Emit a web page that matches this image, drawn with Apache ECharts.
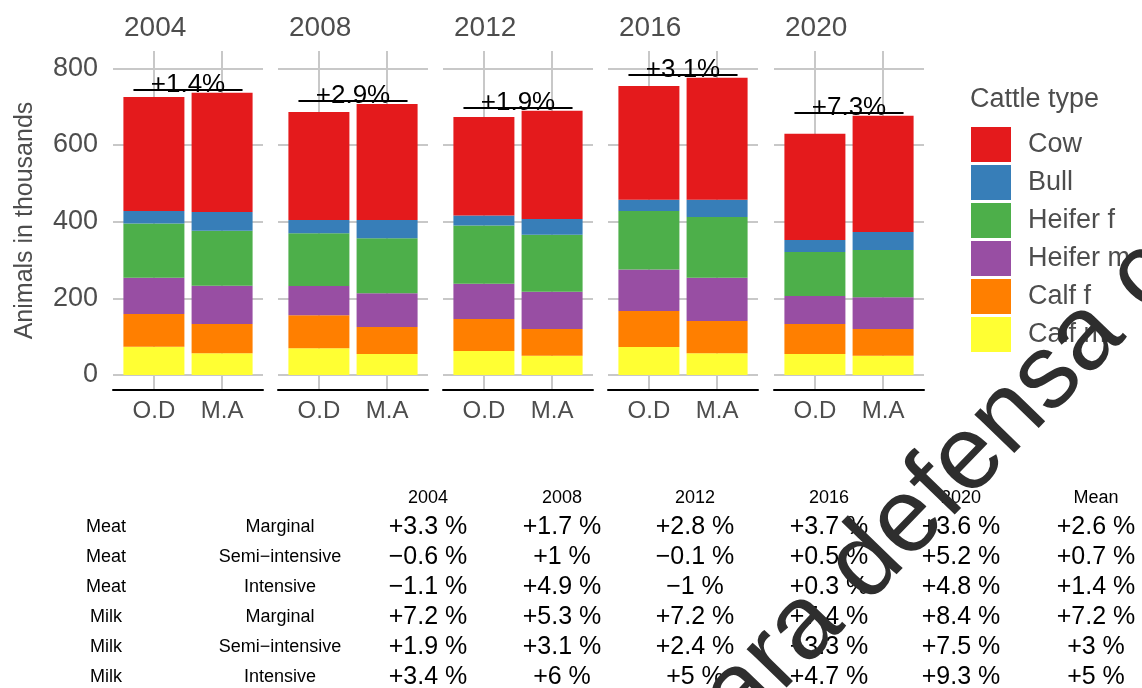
<!DOCTYPE html>
<html>
<head>
<meta charset="utf-8">
<title>Cattle type</title>
<script src="https://cdn.jsdelivr.net/npm/echarts@6/dist/echarts.min.js"></script>
<style>
  html, body { margin: 0; padding: 0; background: #fff; }
  #chart { width: 1142px; height: 688px; }
</style>
</head>
<body>
<div id="chart"></div>
<script>
// --- data ---
const years = ["2004", "2008", "2012", "2016", "2020"];
const groups = ["O.D", "M.A"];
const cattleTypes = ["Cow", "Bull", "Heifer f", "Heifer m", "Calf f", "Calf m"];
const typeColors = ["#E41A1C", "#377EB8", "#4DAF4A", "#984EA3", "#FF7F00", "#FFFF33"];

// animals in thousands per year, [O.D, M.A]
const cow = [[297, 311], [282, 303], [257, 282], [297, 318], [277, 303]];
const bull = [[33, 49], [34, 47], [26, 41], [29, 45], [31, 47]];
const heiferF = [[141, 143], [138, 144], [152, 149], [153, 158], [115, 123]];
const heiferM = [[95, 100], [76, 88], [92, 97], [108, 113], [73, 83]];
const calfF = [[85, 76], [86, 70], [83, 70], [94, 84], [78, 70]];
const calfM = [[74, 57], [70, 55], [63, 50], [73, 57], [55, 50]];

// change labels over each pair of bars
const changeLabels = ["+1.4%", "+2.9%", "+1.9%", "+3.1%", "+7.3%"];
const bracketLevels = [743, 716, 696, 784, 684];

const yTicks = [0, 200, 400, 600, 800];

// table under the chart
const tableHeader = ["2004", "2008", "2012", "2016", "2020", "Mean"];
const tableProduction = ["Meat", "Meat", "Meat", "Milk", "Milk", "Milk"];
const tableSystem = ["Marginal", "Semi\u2212intensive", "Intensive", "Marginal", "Semi\u2212intensive", "Intensive"];
const tableChanges = [
  [3.3, 1.7, 2.8, 3.7, 3.6, 2.6],
  [-0.6, 1, -0.1, 0.5, 5.2, 0.7],
  [-1.1, 4.9, -1, 0.3, 4.8, 1.4],
  [7.2, 5.3, 7.2, 7.4, 8.4, 7.2],
  [1.9, 3.1, 2.4, 3.3, 7.5, 3],
  [3.4, 6, 5, 4.7, 9.3, 5]
];

// --- layout ---
const FONT = '"Liberation Sans", Arial, sans-serif';
const GREY = "#4d4d4d";
const GRID_LINE = "#c8c8c8";
const panelLeft = [113, 278, 443, 608, 774];
const panelTop = 51;
const panelWidth = 150;
const panelHeight = 339;
const yMin = -39;
const yMax = 845;
// discrete x range runs 0.4 .. 2.6, so bars sit in the middle 2 units
const unit = panelWidth / 2.2;

// stacked from the bottom up
const stackValues = {
  "Calf m": calfM,
  "Calf f": calfF,
  "Heifer m": heiferM,
  "Heifer f": heiferF,
  "Bull": bull,
  "Cow": cow
};

function signed(v) {
  return (v < 0 ? "\u2212" : "+") + Math.abs(v) + " %";
}

const grids = [];
const xAxes = [];
const yAxes = [];
const series = [];
const graphics = [];
const n = years.length;

// panel grids (0..4): grid lines, axis line, labels, brackets
years.forEach(function (year, i) {
  grids.push({ left: panelLeft[i], top: panelTop, width: panelWidth, height: panelHeight });

  xAxes.push({
    type: "value",
    gridIndex: i,
    min: 0.4,
    max: 2.6,
    axisLine: { show: true, onZero: false, lineStyle: { color: "#000", width: 2 } },
    axisTick: { show: false, customValues: [1, 2] },
    axisLabel: {
      customValues: [1, 2],
      formatter: (v) => groups[Math.round(v) - 1],
      fontSize: 24,
      color: GREY,
      margin: 9
    },
    splitLine: { show: true, lineStyle: { color: GRID_LINE, width: 2 } }
  });

  yAxes.push({
    type: "value",
    gridIndex: i,
    min: yMin,
    max: yMax,
    name: i === 0 ? "Animals in thousands" : "",
    nameLocation: "middle",
    nameGap: 75,
    nameRotate: 90,
    nameTextStyle: { fontSize: 25, color: GREY },
    axisLine: { show: false },
    axisTick: { show: false, customValues: yTicks },
    axisLabel: { show: i === 0, customValues: yTicks, fontSize: 27, color: GREY, margin: 15 },
    splitLine: { show: true, lineStyle: { color: GRID_LINE, width: 2 } }
  });

  // bracket line with the change label
  series.push({
    name: "change " + year,
    type: "line",
    xAxisIndex: i,
    yAxisIndex: i,
    data: [],
    markLine: {
      silent: true,
      symbol: "none",
      lineStyle: { color: "#000", width: 2, type: "solid" },
      label: {
        show: true,
        position: "middle",
        formatter: changeLabels[i],
        color: "#000",
        fontSize: 26,
        distance: -8
      },
      data: [[{ coord: [0.7, bracketLevels[i]] }, { coord: [2.3, bracketLevels[i]] }]]
    }
  });

  // year strip above the panel
  graphics.push({
    type: "text",
    x: panelLeft[i] + 11,
    y: 28,
    style: { text: year, font: "28px " + FONT, fill: GREY, textVerticalAlign: "middle" }
  });
});

// bar grids (5..9): category axes hidden, same y range
years.forEach(function (year, i) {
  const g = n + i;
  grids.push({ left: panelLeft[i] + 0.1 * unit, top: panelTop, width: 2 * unit, height: panelHeight });
  xAxes.push({ type: "category", gridIndex: g, data: groups, show: false });
  yAxes.push({ type: "value", gridIndex: g, min: yMin, max: yMax, show: false, splitLine: { show: false } });

  Object.keys(stackValues).forEach(function (name) {
    series.push({
      name: name,
      type: "bar",
      stack: "y" + i,
      xAxisIndex: g,
      yAxisIndex: g,
      barWidth: 61,
      itemStyle: { color: typeColors[cattleTypes.indexOf(name)] },
      data: stackValues[name][i]
    });
  });
});

// legend title
graphics.push({
  type: "text",
  x: 970,
  y: 100,
  style: { text: "Cattle type", font: "27px " + FONT, fill: GREY, textVerticalAlign: "middle" }
});

// table
const colX = [428, 562, 695, 829, 961, 1096];
tableHeader.forEach(function (h, c) {
  graphics.push({
    type: "text",
    x: colX[c],
    y: 498,
    style: { text: h, font: "18px " + FONT, fill: "#000", textAlign: "center", textVerticalAlign: "middle" }
  });
});
tableChanges.forEach(function (row, r) {
  const y = 527 + r * 30;
  graphics.push({
    type: "text", x: 106, y: y,
    style: { text: tableProduction[r], font: "18px " + FONT, fill: "#000", textAlign: "center", textVerticalAlign: "middle" }
  });
  graphics.push({
    type: "text", x: 280, y: y,
    style: { text: tableSystem[r], font: "18px " + FONT, fill: "#000", textAlign: "center", textVerticalAlign: "middle" }
  });
  row.forEach(function (v, c) {
    graphics.push({
      type: "text", x: colX[c], y: y,
      style: { text: signed(v), font: "25px " + FONT, fill: "#000", textAlign: "center", textVerticalAlign: "middle" }
    });
  });
});

// watermark across the lower right
graphics.push({
  type: "text",
  x: 717,
  y: 793,
  rotation: 0.80,
  z: 100,
  style: {
    text: "para defensa c",
    font: "105px " + FONT,
    fill: "#2e2e2e",
    textAlign: "left",
    textVerticalAlign: "bottom"
  }
});

const chart = echarts.init(document.getElementById("chart"));
chart.setOption({
  animation: false,
  textStyle: { fontFamily: FONT },
  legend: {
    data: cattleTypes,
    orient: "vertical",
    left: 966,
    top: 122,
    itemWidth: 40,
    itemHeight: 35,
    itemGap: 3,
    icon: "rect",
    selectedMode: false,
    textStyle: { fontSize: 27, color: GREY, padding: [0, 0, 0, 12] }
  },
  grid: grids,
  xAxis: xAxes,
  yAxis: yAxes,
  series: series,
  graphic: graphics
});
</script>
</body>
</html>
